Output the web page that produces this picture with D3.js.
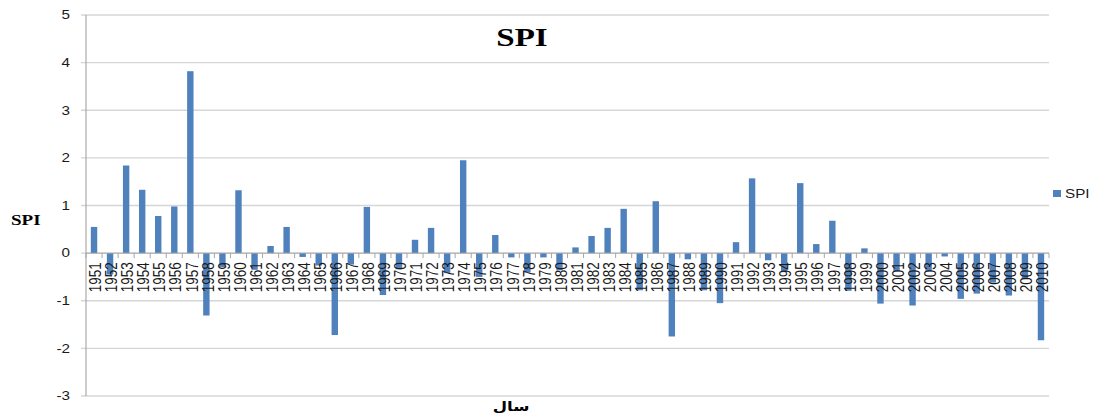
<!DOCTYPE html>
<html>
<head>
<meta charset="utf-8">
<script src="https://cdnjs.cloudflare.com/ajax/libs/d3/7.8.5/d3.min.js"></script>
<style>
  body { margin: 0; background: #fff; }
  svg { display: block; }
</style>
</head>
<body>
<script>
// data
var years = ["1951","1952","1953","1954","1955","1956","1957","1958","1959","1960",
             "1961","1962","1963","1964","1965","1966","1967","1968","1969","1970",
             "1971","1972","1973","1974","1975","1976","1977","1978","1979","1980",
             "1981","1982","1983","1984","1985","1986","1987","1988","1989","1990",
             "1991","1992","1993","1994","1995","1996","1997","1998","1999","2000",
             "2001","2002","2003","2004","2005","2006","2007","2008","2009","2010"];
var spi = [0.55, -0.45, 1.84, 1.33, 0.78, 0.98, 3.82, -1.31, -0.30, 1.32,
           -0.35, 0.15, 0.55, -0.08, -0.26, -1.72, -0.24, 0.97, -0.88, -0.34,
           0.28, 0.53, -0.42, 1.95, -0.50, 0.38, -0.09, -0.41, -0.09, -0.36,
           0.12, 0.36, 0.53, 0.93, -0.78, 1.09, -1.75, -0.13, -0.78, -1.05,
           0.23, 1.57, -0.15, -0.40, 1.47, 0.19, 0.68, -0.79, 0.10, -1.06,
           -0.38, -1.10, -0.38, -0.07, -0.96, -0.85, -0.62, -0.89, -0.55, -1.83];
var yTicks = [-3, -2, -1, 0, 1, 2, 3, 4, 5];
var seriesName = "SPI";
var chartTitle = "SPI";
var xTitle = "سال";

var W = 1094, H = 419;
var plotLeft = 86, plotRight = 1049, plotTop = 15, plotBottom = 396;
var stretch = 1.27;   // picture is stretched sideways, text too
var barColor = "#4f81bd";

var svg = d3.select("body").append("svg")
    .attr("width", W)
    .attr("height", H);

var xb = d3.scaleBand().domain(years).range([plotLeft, plotRight]);
var y = d3.scaleLinear().domain([-3, 5]).range([plotBottom, plotTop]);

// grid lines
svg.append("g").selectAll("line")
    .data(yTicks)
    .enter().append("line")
    .attr("x1", plotLeft - 5)
    .attr("x2", plotRight)
    .attr("y1", function (d) { return y(d); })
    .attr("y2", function (d) { return y(d); })
    .attr("stroke", "#d6d6d6")
    .attr("stroke-width", 1.4);

// y axis line
svg.append("line")
    .attr("x1", plotLeft).attr("x2", plotLeft)
    .attr("y1", y(5)).attr("y2", y(-3))
    .attr("stroke", "#9a9a9a");

// bars
svg.append("g").selectAll("rect")
    .data(spi)
    .enter().append("rect")
    .attr("x", function (d, i) { return xb(years[i]) + (xb.bandwidth() - 6.4) / 2; })
    .attr("width", 6.4)
    .attr("y", function (d) { return y(Math.max(0, d)); })
    .attr("height", function (d) { return Math.abs(y(d) - y(0)); })
    .attr("fill", barColor);

// category axis at zero
svg.append("line")
    .attr("x1", plotLeft).attr("x2", plotRight)
    .attr("y1", y(0)).attr("y2", y(0))
    .attr("stroke", "#a6a6a6");

svg.append("g").selectAll("line")
    .data(years.concat(["end"]))
    .enter().append("line")
    .attr("x1", function (d, i) { return plotLeft + i * xb.step(); })
    .attr("x2", function (d, i) { return plotLeft + i * xb.step(); })
    .attr("y1", y(0))
    .attr("y2", y(0) + 5)
    .attr("stroke", "#a6a6a6");

// year labels, rotated
svg.append("g").selectAll("text")
    .data(years)
    .enter().append("text")
    .attr("transform", function (d) {
        return "translate(" + (xb(d) + xb.bandwidth() / 2 + 1) + "," + (y(0) + 9) + ") scale(" + stretch + ",1) rotate(-90)";
    })
    .attr("text-anchor", "end")
    .attr("dy", "0.36em")
    .style("font-family", "'Liberation Sans', Arial, sans-serif")
    .style("font-size", "13.5px")
    .attr("fill", "#1a1a1a")
    .text(function (d) { return d; });

// y tick labels
svg.append("g").selectAll("text")
    .data(yTicks)
    .enter().append("text")
    .attr("transform", function (d) { return "translate(70," + y(d) + ") scale(" + stretch + ",1)"; })
    .attr("text-anchor", "end")
    .attr("dy", "0.36em")
    .style("font-family", "'Liberation Sans', Arial, sans-serif")
    .style("font-size", "12px")
    .attr("fill", "#1a1a1a")
    .text(function (d) { return d; });

// title
svg.append("text")
    .attr("transform", "translate(522,46) scale(" + stretch + ",1)")
    .attr("text-anchor", "middle")
    .style("font-family", "'Liberation Serif', 'Times New Roman', serif")
    .style("font-weight", "bold")
    .style("font-size", "26px")
    .text(chartTitle);

// y axis title
svg.append("text")
    .attr("transform", "translate(11,225) scale(" + stretch + ",1)")
    .style("font-family", "'Liberation Serif', 'Times New Roman', serif")
    .style("font-weight", "bold")
    .style("font-size", "15px")
    .text(seriesName);

// x axis title
svg.append("text")
    .attr("transform", "translate(511,411) scale(" + stretch + ",1)")
    .attr("text-anchor", "middle")
    .style("font-family", "'DejaVu Sans', sans-serif")
    .style("font-weight", "bold")
    .style("font-size", "13px")
    .text(xTitle);

// legend
var legend = svg.append("g").attr("transform", "translate(1053,190)");
legend.append("rect")
    .attr("width", 8)
    .attr("height", 7)
    .attr("fill", barColor);
legend.append("text")
    .attr("transform", "translate(12,8) scale(" + stretch + ",1)")
    .style("font-family", "'Liberation Sans', Arial, sans-serif")
    .style("font-size", "12px")
    .attr("fill", "#1a1a1a")
    .text(seriesName);
</script>
</body>
</html>
